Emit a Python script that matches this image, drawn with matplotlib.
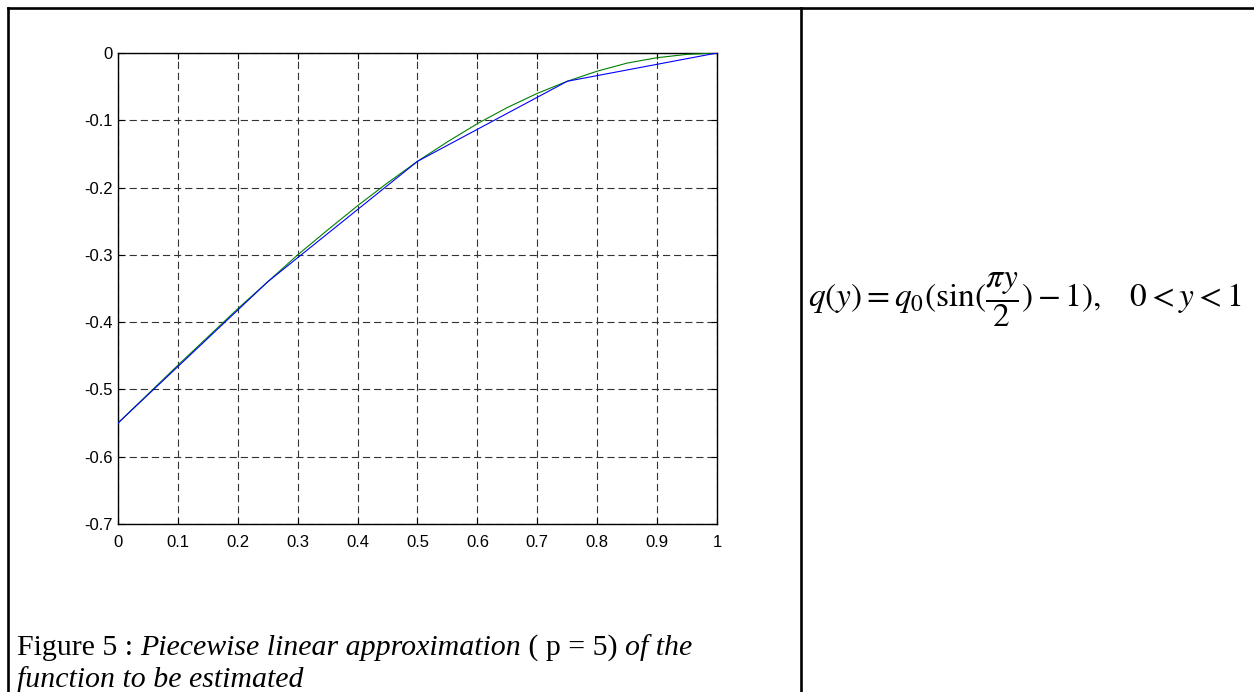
import matplotlib
matplotlib.use("Agg")
import matplotlib.pyplot as plt
from matplotlib.lines import Line2D

# ---- data ----
x_exact = [0.00, 0.05, 0.10, 0.15, 0.20, 0.25, 0.30, 0.35, 0.40, 0.45, 0.50,
           0.55, 0.60, 0.65, 0.70, 0.75, 0.80, 0.85, 0.90, 0.95, 1.00]
q_exact = [-0.550, -0.507, -0.464, -0.422, -0.380, -0.340, -0.300, -0.263, -0.227, -0.193, -0.161,
           -0.132, -0.105, -0.081, -0.060, -0.042, -0.027, -0.015, -0.007, -0.002, 0.000]
x_approx = [0.00, 0.25, 0.50, 0.75, 1.00]
q_approx = [-0.550, -0.340, -0.161, -0.042, 0.000]
x_ticks = [0, 0.1, 0.2, 0.3, 0.4, 0.5, 0.6, 0.7, 0.8, 0.9, 1]
x_tick_labels = ["0", "0.1", "0.2", "0.3", "0.4", "0.5", "0.6", "0.7", "0.8", "0.9", "1"]
y_ticks = [-0.7, -0.6, -0.5, -0.4, -0.3, -0.2, -0.1, 0]
y_tick_labels = ["-0.7", "-0.6", "-0.5", "-0.4", "-0.3", "-0.2", "-0.1", "0"]

W, H = 1254, 692
DPI = 100
plt.rcParams["mathtext.fontset"] = "stix"
fig = plt.figure(figsize=(W / DPI, H / DPI), dpi=DPI)
fig.patch.set_facecolor("white")

def fx(px):
    return px / W

def fy(py):
    return 1 - py / H

# ---- axes ----
ax_l, ax_t, ax_r, ax_b = 118, 53, 717, 524
ax = fig.add_axes([fx(ax_l), fy(ax_b), (ax_r - ax_l) / W, (ax_b - ax_t) / H])
ax.plot(x_exact, q_exact, color=(0, 0.5, 0), lw=0.8, zorder=3)
ax.plot(x_approx, q_approx, color=(0, 0, 1), lw=0.8, zorder=3)
ax.set_xlim(0, 1)
ax.set_ylim(-0.7, 0)
ax.set_xticks(x_ticks)
ax.set_xticklabels(x_tick_labels)
ax.set_yticks(y_ticks)
ax.set_yticklabels(y_tick_labels)
ax.grid(True, color="#333333", linestyle=(0, (6.5, 3.5)), linewidth=0.8)
ax.tick_params(direction="in", length=4, width=0.8, top=True, right=True,
               labelsize=12, colors="black")
ax.tick_params(axis="x", pad=8)
ax.tick_params(axis="y", pad=4)
for lab in ax.get_xticklabels() + ax.get_yticklabels():
    lab.set_family("Liberation Sans")
for s in ax.spines.values():
    s.set_linewidth(1.0)
    s.set_color("black")

# ---- table frame ----
lw_frame = 1.9
fig.add_artist(Line2D([fx(7.5), 1.0], [fy(7.5), fy(7.5)], color="black", lw=lw_frame,
                      transform=fig.transFigure))
fig.add_artist(Line2D([fx(7.5), fx(7.5)], [fy(7.5), 0.0], color="black", lw=lw_frame,
                      transform=fig.transFigure))
fig.add_artist(Line2D([fx(801), fx(801)], [fy(7.5), 0.0], color="black", lw=lw_frame,
                      transform=fig.transFigure))

# ---- caption ----
fs_cap = 21.5
fig.canvas.draw()
renderer = fig.canvas.get_renderer()

def place_run(x_px, y_px, pieces):
    x = x_px
    for text, style in pieces:
        t = fig.text(fx(x), fy(y_px), text, fontsize=fs_cap, family="Liberation Serif",
                     fontstyle=style, va="baseline", ha="left")
        bb = t.get_window_extent(renderer=renderer)
        x += bb.width

place_run(17, 655, [("Figure 5 : ", "normal"),
                    ("Piecewise linear approximation", "italic"),
                    (" ( p = 5) ", "normal"),
                    ("of the", "italic")])
place_run(17, 687, [("function to be estimated", "italic")])

# ---- formula ----
fig.text(fx(808), fy(300),
         r"$q(y) = q_0(\sin(\dfrac{\pi y}{2}) - 1),\quad 0 < y < 1$",
         fontsize=24, va="center", ha="left")

fig.savefig("out.png", dpi=DPI, facecolor="white")
